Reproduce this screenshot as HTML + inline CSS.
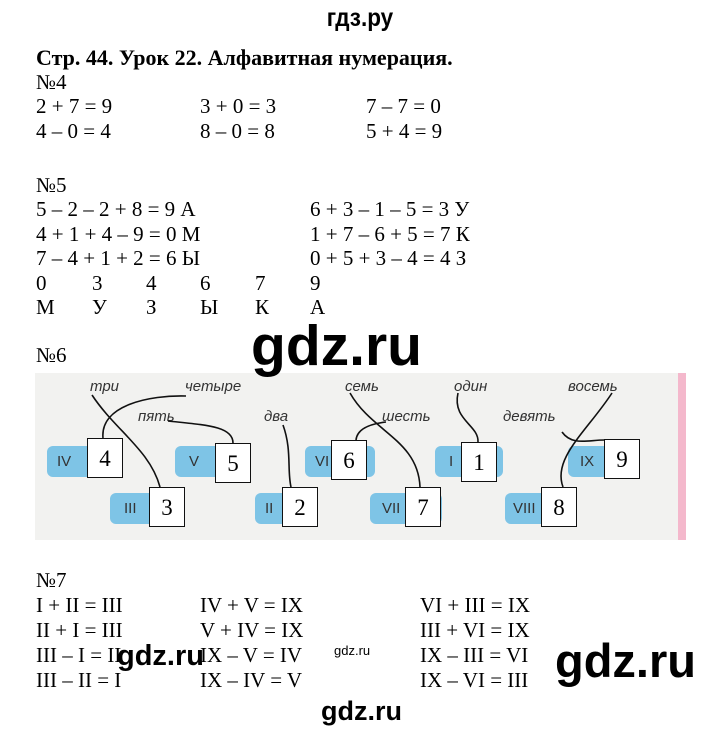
<!DOCTYPE html>
<html><head><meta charset="utf-8"><style>
body{margin:0;background:#fff;width:720px;height:748px;position:relative;overflow:hidden;font-family:"Liberation Serif",serif;color:#000}
.t{position:absolute;font-size:21px;line-height:24px;white-space:nowrap}
.w{position:absolute;font-family:"Liberation Sans",sans-serif;font-weight:bold;white-space:nowrap;line-height:1}
.b{position:absolute;background:#7ec4e6;border-radius:6px;height:31px;font-family:"Liberation Sans",sans-serif;font-size:15px;color:#333;line-height:31px}
.n{position:absolute;background:#fff;border:1.5px solid #111;font-size:23px;text-align:center;box-sizing:border-box;width:36px;height:40px;line-height:40px}
.l{position:absolute;font-family:"Liberation Sans",sans-serif;font-style:italic;font-size:15px;color:#333;line-height:16px}
</style></head><body>
<div class="w" style="left:323px;top:6px;font-size:25px;font-weight:bold;transform:scaleX(0.9)">гдз.ру</div>
<div class="t" style="left:36px;top:46px;font-weight:bold;font-size:22px">Стр. 44. Урок 22. Алфавитная нумерация.</div>
<div class="t" style="left:36px;top:70px">№4</div>
<div class="t" style="left:36px;top:94px">2 + 7 = 9</div><div class="t" style="left:200px;top:94px">3 + 0 = 3</div><div class="t" style="left:366px;top:94px">7 – 7 = 0</div>
<div class="t" style="left:36px;top:119px">4 – 0 = 4</div><div class="t" style="left:200px;top:119px">8 – 0 = 8</div><div class="t" style="left:366px;top:119px">5 + 4 = 9</div>
<div class="t" style="left:36px;top:173px">№5</div>
<div class="t" style="left:36px;top:197px">5 – 2 – 2 + 8 = 9 А</div><div class="t" style="left:310px;top:197px">6 + 3 – 1 – 5 = 3 У</div>
<div class="t" style="left:36px;top:222px">4 + 1 + 4 – 9 = 0 М</div><div class="t" style="left:310px;top:222px">1 + 7 – 6 + 5 = 7 К</div>
<div class="t" style="left:36px;top:246px">7 – 4 + 1 + 2 = 6 Ы</div><div class="t" style="left:310px;top:246px">0 + 5 + 3 – 4 = 4 З</div>
<div class="t" style="left:36px;top:271px">0</div><div class="t" style="left:92px;top:271px">3</div><div class="t" style="left:146px;top:271px">4</div><div class="t" style="left:200px;top:271px">6</div><div class="t" style="left:255px;top:271px">7</div><div class="t" style="left:310px;top:271px">9</div>
<div class="t" style="left:36px;top:295px">М</div><div class="t" style="left:92px;top:295px">У</div><div class="t" style="left:146px;top:295px">З</div><div class="t" style="left:200px;top:295px">Ы</div><div class="t" style="left:255px;top:295px">К</div><div class="t" style="left:310px;top:295px">А</div>
<div class="t" style="left:36px;top:343px">№6</div>
<div style="position:absolute;left:35px;top:373px;width:645px;height:167px;background:#f2f2f0"></div>
<div style="position:absolute;left:678px;top:373px;width:8px;height:167px;background:#f4b8cc"></div>
<div class="l" style="left:90px;top:379px">три</div><div class="l" style="left:185px;top:379px">четыре</div><div class="l" style="left:345px;top:379px">семь</div><div class="l" style="left:454px;top:379px">один</div><div class="l" style="left:568px;top:379px">восемь</div>
<div class="l" style="left:138px;top:409px">пять</div><div class="l" style="left:264px;top:409px">два</div><div class="l" style="left:382px;top:409px">шесть</div><div class="l" style="left:503px;top:409px">девять</div>
<div class="b" style="left:47px;top:446px;width:75px;padding-left:10px;box-sizing:border-box">IV</div><div class="n" style="left:87px;top:438px">4</div>
<div class="b" style="left:175px;top:446px;width:70px;padding-left:14px;box-sizing:border-box">V</div><div class="n" style="left:215px;top:443px">5</div>
<div class="b" style="left:305px;top:446px;width:70px;padding-left:10px;box-sizing:border-box">VI</div><div class="n" style="left:331px;top:440px">6</div>
<div class="b" style="left:435px;top:446px;width:68px;padding-left:14px;box-sizing:border-box">I</div><div class="n" style="left:461px;top:442px">1</div>
<div class="b" style="left:568px;top:446px;width:72px;padding-left:12px;box-sizing:border-box">IX</div><div class="n" style="left:604px;top:439px">9</div>
<div class="b" style="left:110px;top:493px;width:75px;padding-left:14px;box-sizing:border-box">III</div><div class="n" style="left:149px;top:487px">3</div>
<div class="b" style="left:255px;top:493px;width:62px;padding-left:10px;box-sizing:border-box">II</div><div class="n" style="left:282px;top:487px">2</div>
<div class="b" style="left:370px;top:493px;width:72px;padding-left:12px;box-sizing:border-box">VII</div><div class="n" style="left:405px;top:487px">7</div>
<div class="b" style="left:505px;top:493px;width:70px;padding-left:8px;box-sizing:border-box">VIII</div><div class="n" style="left:541px;top:487px">8</div>
<svg style="position:absolute;left:0;top:0" width="720" height="748" fill="none" stroke="#111" stroke-width="1.6">
<path d="M92,395 C115,430 150,450 160,487"/>
<path d="M103,438 C100,405 150,395 186,396"/>
<path d="M168,421 C205,425 233,426 233,443"/>
<path d="M283,425 C292,450 287,470 291,487"/>
<path d="M350,393 C372,432 418,440 420,487"/>
<path d="M386,422 C368,424 357,430 356,440"/>
<path d="M458,393 C452,420 479,425 478,442"/>
<path d="M612,393 C588,430 552,458 563,487"/>
<path d="M562,432 C572,446 588,440 604,440"/>
</svg>
<div class="w" style="left:251px;top:318px;font-size:57px">gdz.ru</div>
<div class="t" style="left:36px;top:568px">№7</div>
<div class="t" style="left:36px;top:593px">I + II = III</div><div class="t" style="left:200px;top:593px">IV + V = IX</div><div class="t" style="left:420px;top:593px">VI + III = IX</div>
<div class="t" style="left:36px;top:618px">II + I = III</div><div class="t" style="left:200px;top:618px">V + IV = IX</div><div class="t" style="left:420px;top:618px">III + VI = IX</div>
<div class="t" style="left:36px;top:643px">III – I = II</div><div class="t" style="left:200px;top:643px">IX – V = IV</div><div class="t" style="left:420px;top:643px">IX – III = VI</div>
<div class="t" style="left:36px;top:668px">III – II = I</div><div class="t" style="left:200px;top:668px">IX – IV = V</div><div class="t" style="left:420px;top:668px">IX – VI = III</div>
<div class="w" style="left:117px;top:642px;font-size:29px">gdz.ru</div>
<div class="w" style="left:334px;top:644px;font-size:13px;font-weight:normal">gdz.ru</div>
<div class="w" style="left:555px;top:637px;font-size:47px">gdz.ru</div>
<div class="w" style="left:321px;top:698px;font-size:27px">gdz.ru</div>
</body></html>
